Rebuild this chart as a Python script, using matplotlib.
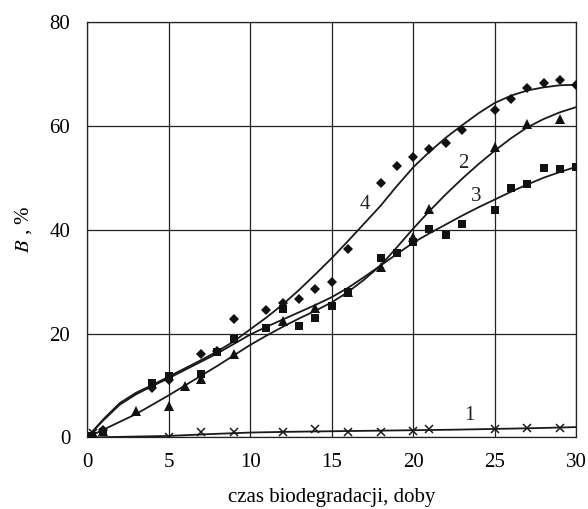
import numpy as np
import matplotlib
matplotlib.use("Agg")
import matplotlib.pyplot as plt

# Series 1 (crosses)
x1 = [0.35, 5, 7, 9, 12, 14, 16, 18, 20, 21, 25, 27, 29]
y1 = [0.8, 0.1, 1.0, 1.0, 1.1, 1.6, 1.0, 1.0, 1.3, 1.6, 1.6, 1.8, 1.8]
# Series 2 (triangles)
x2 = [0.3, 1, 3, 5, 6, 7, 9, 12, 14, 16, 18, 20, 21, 25, 27, 29]
y2 = [0.3, 1.2, 5.1, 6.0, 10.0, 11.3, 16.0, 22.5, 25.0, 28.0, 32.9, 38.5, 44.0, 56.0, 60.4, 61.3]
# Series 3 (squares)
x3 = [0.3, 1, 4, 5, 7, 8, 9, 11, 12, 13, 14, 15, 16, 18, 19, 20, 21, 22, 23, 25, 26, 27, 28, 29, 30]
y3 = [0.3, 1.0, 10.4, 11.8, 12.3, 16.4, 19.0, 21.1, 24.8, 21.4, 23.0, 25.4, 28.0, 34.5, 35.5, 37.6,
      40.2, 39.0, 41.1, 43.8, 48.0, 48.7, 51.9, 51.7, 52.1]
# Series 4 (diamonds)
x4 = [0.3, 1, 4, 5, 7, 8, 9, 11, 12, 13, 14, 15, 16, 18, 19, 20, 21, 22, 23, 25, 26, 27, 28, 29, 30]
y4 = [0.3, 1.5, 9.5, 11.1, 16.0, 16.6, 22.9, 24.6, 25.8, 26.7, 28.6, 30.0, 36.2, 49.0, 52.3, 54.0,
      55.5, 56.7, 59.2, 63.0, 65.2, 67.2, 68.3, 68.8, 67.9]

# Fitted trend curves
cx = list(range(0, 31))
c2 = [0, 1.5, 3.0, 4.5, 6.3, 8.1, 10.0, 11.9, 13.8, 15.8, 17.8, 19.6, 21.3, 22.9, 24.4, 26.0,
      28.0, 30.4, 33.1, 36.6, 40.2, 43.6, 46.8, 49.8, 52.6, 55.2, 57.6, 59.7, 61.3, 62.6, 63.6]
c3 = [0, 3.3, 6.3, 8.3, 9.9, 11.4, 13.0, 14.6, 16.2, 18.0, 19.8, 21.3, 22.7, 24.1, 25.5, 27.0,
      28.8, 30.9, 33.1, 35.3, 37.5, 39.3, 41.0, 42.7, 44.3, 45.8, 47.3, 48.7, 50.0, 51.1, 52.1]
c4 = [0, 3.5, 6.6, 8.6, 10.1, 11.7, 13.3, 14.9, 16.6, 18.5, 20.8, 23.1, 25.6, 28.4, 31.4, 34.5,
      37.8, 41.2, 44.6, 48.4, 52.0, 55.0, 57.7, 60.1, 62.4, 64.4, 65.8, 66.8, 67.4, 67.8, 67.9]
cx1 = [0, 2.5, 5, 7.5, 10, 12.5, 15, 17.5, 20, 22.5, 25, 27.5, 30]
c1 = [0, 0.15, 0.3, 0.65, 0.95, 1.1, 1.2, 1.3, 1.4, 1.5, 1.65, 1.8, 2.0]

series_labels = ["1", "2", "3", "4"]
label_pos = {"1": (23.45, 4.3), "2": (23.1, 52.7), "3": (23.85, 46.3), "4": (17.05, 44.8)}

xticks = [0, 5, 10, 15, 20, 25, 30]
yticks = [0, 20, 40, 60, 80]
xlabel = "czas biodegradacji, doby"

plt.rcParams['font.family'] = ['Liberation Serif', 'DejaVu Serif']
plt.rcParams['mathtext.fontset'] = 'stix'

fig = plt.figure(figsize=(5.88, 5.09), dpi=100)
ax = fig.add_axes([0.148, 0.1405, 0.832, 0.8165])

ink = '#1a1a1a'
curves = {"1": (cx1, c1), "2": (cx, c2), "3": (cx, c3), "4": (cx, c4)}
data = {"1": (x1, y1, 'x', 6, 1.1), "2": (x2, y2, '^', 7, 0), "3": (x3, y3, 's', 5.8, 0), "4": (x4, y4, 'D', 5.2, 0)}

for key in series_labels:
    kx, ky = curves[key]
    ax.plot(kx, ky, color=ink, lw=1.3, zorder=3, solid_joinstyle='round')
    x, y, m, ms, mew = data[key]
    if m == 'x':
        ax.plot(x, y, linestyle='none', marker=m, ms=ms, mew=mew, color=ink, zorder=4)
    else:
        ax.plot(x, y, linestyle='none', marker=m, ms=ms, mew=0, color='#111111', zorder=4)
    tx, ty = label_pos[key]
    ax.text(tx, ty, key, fontsize=15, ha='center', va='center', color='#222222')

ax.set_xlim(0, 30)
ax.set_ylim(0, 80)
ax.set_xticks(xticks)
ax.set_yticks(yticks)
ax.grid(True, color='#222222', lw=0.9)
ax.set_axisbelow(True)
ax.tick_params(axis='x', length=0, labelsize=15, pad=11)
ax.tick_params(axis='y', length=0, labelsize=15, pad=12)
for s in ax.spines.values():
    s.set_color('#222222')
    s.set_linewidth(0.9)
ax.set_xlabel(xlabel, fontsize=15, labelpad=12)
ax.set_ylabel(r"$B$ , %", fontsize=15, labelpad=11)

fig.savefig("out.png", dpi=100)
